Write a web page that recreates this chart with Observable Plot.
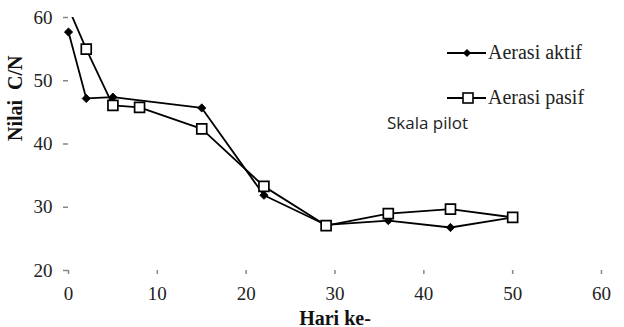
<!DOCTYPE html>
<html><head><meta charset="utf-8">
<script src="https://cdn.jsdelivr.net/npm/d3@7"></script>
<script src="https://cdn.jsdelivr.net/npm/@observablehq/plot@0.6"></script>
<style>body{margin:0;background:#fff} #wrap{position:relative;width:624px;height:327px;background:#fff}
#wrap text{font-family:"Liberation Serif","DejaVu Serif",serif}
#wrap text.sans{font-family:"Open Sans","Liberation Sans",sans-serif}</style>
</head><body><div id="wrap"></div>
<script>
const seriesNames = ["Aerasi aktif", "Aerasi pasif"];
const aktifDays = [0, 2, 5, 15, 22, 29, 36, 43, 50];
const aktifValues = [57.7, 47.2, 47.4, 45.7, 31.9, 27.2, 27.9, 26.8, 28.4];
const pasifDays = [0, 2, 5, 8, 15, 22, 29, 36, 43, 50];
const pasifValues = [61.5, 55.0, 46.1, 45.8, 42.4, 33.3, 27.1, 29.0, 29.7, 28.4];
const xTicks = [0, 10, 20, 30, 40, 50, 60];
const yTicks = [20, 30, 40, 50, 60];
const xLabel = "Hari ke-";
const yLabel = "Nilai  C/N";
const noteText = "Skala pilot";

const aktRows = aktifDays.map((d, i) => ({day: d, value: aktifValues[i], series: seriesNames[0]}));
const pasRows = pasifDays.map((d, i) => ({day: d, value: pasifValues[i], series: seriesNames[1]}));

const axisGrey = "#8a8484";
const serif = "Liberation Serif, DejaVu Serif, serif";

const chart = Plot.plot({
  width: 624, height: 327,
  marginLeft: 68, marginRight: 23, marginTop: 17, marginBottom: 57,
  style: {fontFamily: serif, fontSize: "19px", color: "#222", background: "#fff", overflow: "visible"},
  x: {domain: [0, 60]},
  y: {domain: [20, 60]},
  marks: [
    Plot.axisY({ticks: yTicks, tickSize: 5, tickPadding: 11, stroke: axisGrey, fill: "#222", line: true, label: null, strokeWidth: 1.5}),
    Plot.axisX({ticks: xTicks, tickSize: 4, tickPadding: 12, stroke: axisGrey, fill: "#222", line: true, label: null, strokeWidth: 1.5}),
    Plot.line(pasRows, {x: "day", y: "value", stroke: "#000", strokeWidth: 1.8, clip: true}),
    Plot.line(aktRows, {x: "day", y: "value", stroke: "#000", strokeWidth: 1.8}),
    Plot.dot(aktRows, {x: "day", y: "value", symbol: "square", rotate: 45, r: 3.3, fill: "#000", stroke: "#000", strokeWidth: 0.8}),
    Plot.dot(pasRows, {x: "day", y: "value", symbol: "square", r: 5.6, fill: "#fff", stroke: "#000", strokeWidth: 1.7, clip: true}),
    Plot.text([xLabel], {text: d => d, frameAnchor: "bottom", lineAnchor: "bottom", dy: 54, fontWeight: "bold", fontSize: 20, fill: "#111"}),
    Plot.text([yLabel], {text: d => d, frameAnchor: "left", rotate: -90, dx: -53, dy: -3, fontWeight: "bold", fontSize: 20, fill: "#111"})
  ]
});

const wrap = document.getElementById("wrap");
wrap.appendChild(chart);

// Legend overlay
const leg = d3.select(wrap).append("svg")
  .attr("width", 624).attr("height", 327)
  .style("position", "absolute").style("left", "0px").style("top", "0px")
  .style("pointer-events", "none");

const entries = [
  {name: seriesNames[0], y: 53, kind: "diamond"},
  {name: seriesNames[1], y: 98, kind: "square"}
];
entries.forEach(e => {
  leg.append("line").attr("x1", 447).attr("x2", 486).attr("y1", e.y).attr("y2", e.y)
    .attr("stroke", "#000").attr("stroke-width", 1.8);
  if (e.kind === "diamond") {
    leg.append("path").attr("d", d3.symbol(d3.symbolSquare, 34)())
      .attr("transform", `translate(467,${e.y}) rotate(45)`).attr("fill", "#000");
  } else {
    leg.append("rect").attr("x", 468 - 5).attr("y", e.y - 5).attr("width", 10).attr("height", 10)
      .attr("fill", "#fff").attr("stroke", "#000").attr("stroke-width", 1.6);
  }
  leg.append("text").attr("x", 488).attr("y", e.y + 6).text(e.name)
    .attr("font-size", 20).attr("fill", "#222");
});
leg.append("text").attr("class", "sans").attr("x", 387).attr("y", 129).text(noteText)
  .attr("font-size", 17).attr("fill", "#222");
</script>
</body></html>
